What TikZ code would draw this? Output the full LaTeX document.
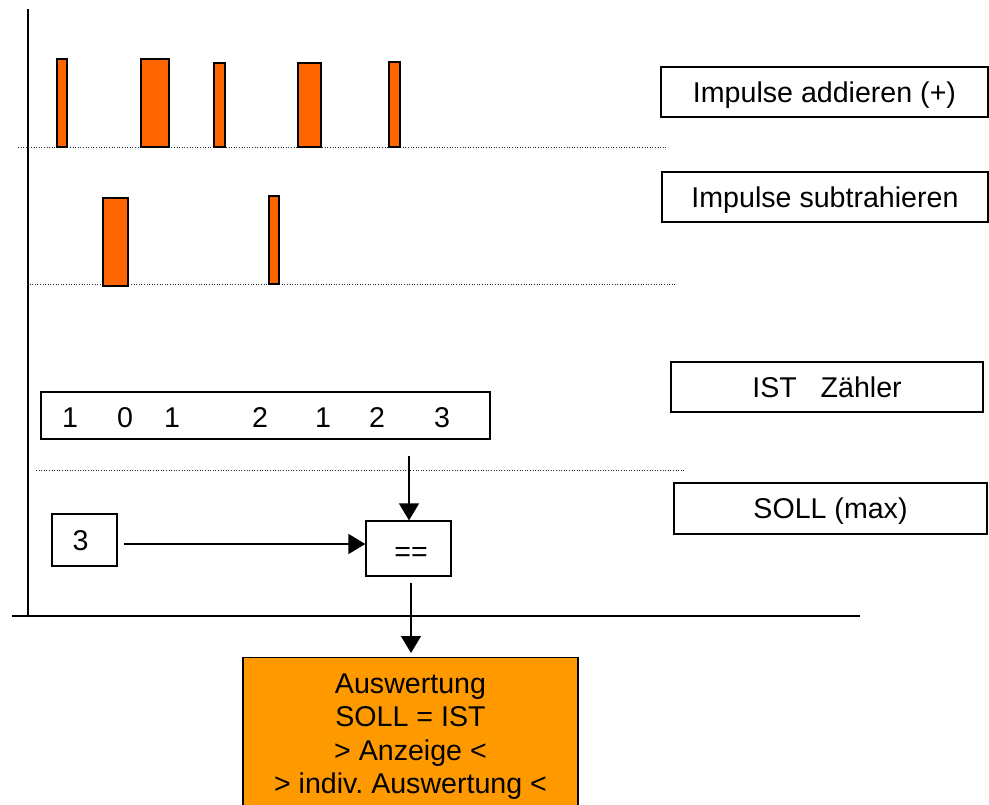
\documentclass[tikz,border=0pt]{standalone}
\usepackage{fontspec}
\setmainfont{Liberation Sans}
\usetikzlibrary{arrows.meta}
\definecolor{bar}{HTML}{FF6600}
\definecolor{res}{HTML}{FF9900}
\tikzset{
  barbox/.style={draw=black, fill=bar, line width=1.5pt},
  lbox/.style={draw=black, line width=1.3pt, inner sep=0pt, text height=20.5pt, text depth=0pt},
  dotline/.style={line width=0.9pt, dash pattern=on 1pt off 1.6pt, black!85},
  axis/.style={line width=1.5pt},
  conn/.style={line width=1.5pt, -{Triangle[width=20pt,length=17pt]}},
}
\begin{document}
\frenchspacing
\begin{tikzpicture}[x=1pt,y=-1pt, font=\fontsize{28.6pt}{33.5pt}\selectfont]
\clip (0,0) rectangle (989,805);
\fill[white] (0,0) rectangle (989,805);
% axes
\coordinate (axT) at (28,9);
\coordinate (axB) at (28,617);
\coordinate (hL) at (12,616);
\coordinate (hR) at (860,616);
\draw[axis] (axT) -- (axB);
\draw[axis] (hL) -- (hR);
% dotted baselines
\coordinate (d1a) at (18,147); \coordinate (d1b) at (667,147);
\coordinate (d2a) at (27,284.5); \coordinate (d2b) at (676,284.5);
\coordinate (d3a) at (36,470); \coordinate (d3b) at (685,470);
\draw[dotline] (d1a) -- (d1b);
\draw[dotline] (d2a) -- (d2b);
\draw[dotline] (d3a) -- (d3b);
% impulse bars (add)
\draw[barbox] (57,59) rectangle (67,147);
\draw[barbox] (141,59) rectangle (169,147);
\draw[barbox] (214,63) rectangle (225,147);
\draw[barbox] (298,63) rectangle (321,147);
\draw[barbox] (389,62) rectangle (400,147);
% impulse bars (subtract)
\draw[barbox] (103,198) rectangle (128,286);
\draw[barbox] (269,196) rectangle (279,284);
% right label boxes
\node[lbox, minimum width=327pt, minimum height=50pt] (add) at (824.5,92) {Impulse addieren (+)};
\node[lbox, minimum width=326pt, minimum height=50pt] (sub) at (825,197) {Impulse subtrahieren};
\node[lbox, minimum width=312pt, minimum height=50pt] (ist) at (827,387) {IST\ \ \ Zähler};
\node[lbox, minimum width=313pt, minimum height=51pt] (soll) at (830.5,508.5) {SOLL (max)};
% counter box
\node[draw, line width=1.3pt, minimum width=449pt, minimum height=47pt, inner sep=0pt] (cnt) at (265.5,415.5) {};
\begin{scope}
\clip (41,392) rectangle (490,429);
\node[anchor=base, inner sep=0pt] (c1) at (70,428) {1};
\node[anchor=base, inner sep=0pt] (c2) at (125,428) {0};
\node[anchor=base, inner sep=0pt] (c3) at (172,428) {1};
\node[anchor=base, inner sep=0pt] (c4) at (260,428) {2};
\node[anchor=base, inner sep=0pt] (c5) at (323,428) {1};
\node[anchor=base, inner sep=0pt] (c6) at (377,428) {2};
\node[anchor=base, inner sep=0pt] (c7) at (442,428) {3};
\end{scope}
% soll value and comparator
\node[lbox, minimum width=65pt, minimum height=52pt] (three) at (84.5,540) {\hspace*{-8pt}3};
\node[lbox, minimum width=85pt, minimum height=55pt] (eq) at (408.5,548.5) {\hspace*{5pt}\raisebox{-3pt}{==}};
% result box
\node[draw, line width=1.3pt, fill=res, anchor=north, minimum width=335pt, minimum height=170pt, inner sep=0pt] (ausw) at (410.5,657) {};
\node[anchor=north, align=center, inner sep=0pt] (awtext) at (410.5,673.5) {Auswertung\\SOLL = IST\\> Anzeige <\\> indiv.\ Auswertung <};
% connectors
\draw[conn, shorten <=16pt] (409,0 |- cnt.south) -- (409,0 |- eq.north);
\draw[conn, shorten <=6pt] (three.east |- 0,544) -- (eq.west |- 0,544);
\draw[conn, shorten <=6pt, shorten >=4pt] (411,0 |- eq.south) -- (411,0 |- ausw.north);
\end{tikzpicture}
\end{document}
